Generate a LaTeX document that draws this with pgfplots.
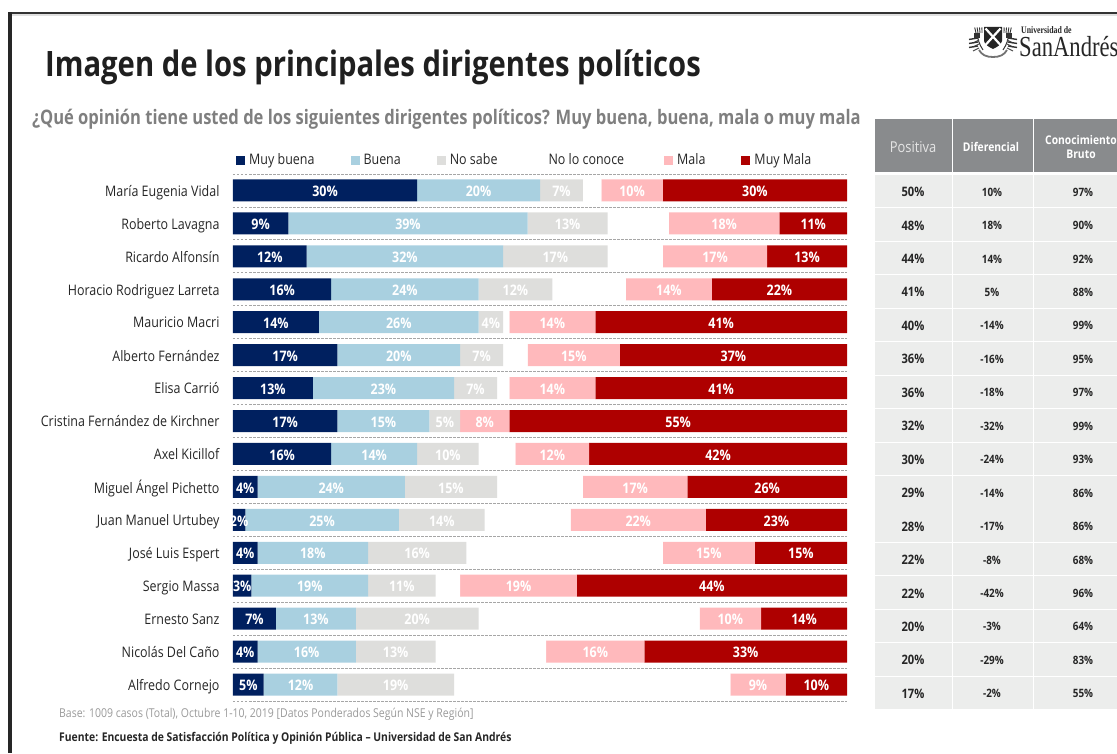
\documentclass[border=0pt]{standalone}
\usepackage{pgfplots}
\pgfplotsset{compat=1.18}
\usepackage{pgfplotstable}
\usepackage{fontspec}
\setmainfont[FakeStretch=0.86]{Open Sans}
\newfontfamily\titlefont[FakeStretch=0.835]{Open Sans}
\newfontfamily\subfont[FakeStretch=0.828]{Open Sans}
\newfontfamily\logofont[FakeStretch=0.78]{Liberation Serif}

\definecolor{muybuena}{HTML}{00205F}
\definecolor{buena}{HTML}{A9D0E0}
\definecolor{nosabe}{HTML}{DEDEDC}
\definecolor{mala}{HTML}{FFB9BC}
\definecolor{muymala}{HTML}{AE0000}
\definecolor{cabecera}{HTML}{898B8D}
\definecolor{celda}{HTML}{ECEDEC}
\definecolor{subtitulo}{HTML}{7F7F7F}
\definecolor{base}{HTML}{9A9A9A}

% Percentages per politician; nc (no lo conoce) completes each row to 100
\pgfplotstableread{
row mb b  ns nc m  mm
1   30 20 7  3  10 30
2   9  39 13 10 18 11
3   12 32 17 9  17 13
4   16 24 12 12 14 22
5   14 26 4  1  14 41
6   17 20 7  4  15 37
7   13 23 7  2  14 41
8   17 15 5  0  8  55
9   16 14 10 6  12 42
10  4  24 15 14 17 26
11  2  25 14 14 22 23
12  4  18 16 32 15 15
13  3  19 11 4  19 44
14  7  13 20 36 10 14
15  4  16 13 18 16 33
16  5  12 19 45 9  10
}\imagen

\pgfplotsset{
  segment/.style={
    fill=#1, draw=none,
    nodes near coords={\pgfmathprintnumber[assume math mode=true]{\pgfplotspointmeta}\%},
  },
}

\begin{document}
\begin{tikzpicture}
\useasboundingbox (0,0) rectangle (1117pt,753pt);

\begin{scope}[x=1pt,y=-1pt,yshift=753pt]
  % slide frame
  \fill[black!12] (11,13.5) rectangle (1117,16);
  \fill[black!80] (8,12) rectangle (1117,14);
  \fill[black!85] (8,12) rectangle (11.5,753);

  % headings
  \node[anchor=base west,inner sep=0,font=\titlefont\fontsize{35}{35}\selectfont\bfseries,text=black!88] at (45,77) {Imagen de los principales dirigentes políticos};
  \node[anchor=base west,inner sep=0,font=\subfont\fontsize{20}{20}\selectfont\bfseries,text=subtitulo] at (32,125) {¿Qué opinión tiene usted de los siguientes dirigentes políticos? Muy buena, buena, mala o muy mala};

  % footer
  \node[anchor=base west,inner sep=0,font=\fontsize{12.2}{12}\selectfont,text=base] at (59,717) {Base: 1009 casos (Total), Octubre 1-10, 2019 [Datos Ponderados Según NSE y Región]};
  \node[anchor=base west,inner sep=0,font=\fontsize{12.05}{12}\selectfont\bfseries,text=black!85] at (59,741) {Fuente: Encuesta de Satisfacción Política y Opinión Pública – Universidad de San Andrés};

  % summary table header
  \fill[cabecera] (875,119) rectangle (952,172);
  \fill[cabecera] (953,119) rectangle (1032.5,172);
  \fill[cabecera] (1034,119) rectangle (1117,172);
  \node[text=white!90!black,font=\fontsize{15}{15}\selectfont] at (913,147) {Positiva};
  \node[text=white,font=\fontsize{12}{12}\selectfont\bfseries] at (991,147) {Diferencial};
  \node[text=white,font=\fontsize{12}{14}\selectfont\bfseries,align=center] at (1081,147) {Conocimiento\\Bruto};

  % summary table body
  \foreach \pos/\dif/\con [count=\i from 0] in {
    50/10/97, 48/18/90, 44/14/92, 41/5/88, 40/-14/99, 36/-16/95, 36/-18/97, 32/-32/99,
    30/-24/93, 29/-14/86, 28/-17/86, 22/-8/68, 22/-42/96, 20/-3/64, 20/-29/83, 17/-2/55} {
    \pgfmathsetmacro{\ytop}{175+33.45*\i}
    \pgfmathsetmacro{\ybot}{\ytop+32.5}
    \pgfmathsetmacro{\ymid}{\ytop+17}
    \fill[celda] (875,\ytop) rectangle (952,\ybot);
    \fill[celda] (953,\ytop) rectangle (1032.5,\ybot);
    \fill[celda] (1034,\ytop) rectangle (1117,\ybot);
    \node[font=\fontsize{13}{13}\selectfont\bfseries,text=black!85] at (913,\ymid) {\pos\%};
    \node[font=\fontsize{11.5}{12}\selectfont\bfseries,text=black!85] at (992,\ymid) {\dif\%};
    \node[font=\fontsize{11.5}{12}\selectfont\bfseries,text=black!85] at (1083,\ymid) {\con\%};
  }

  % university mark: wordmark
  \node[anchor=base west,inner sep=0,font=\logofont\fontsize{10}{10}\selectfont\bfseries,text=black!85] at (1021,34) {Universidad de};
  \begin{scope}
    \clip (1000,20) rectangle (1117,70);
    \node[anchor=base west,inner sep=0,font=\logofont\fontsize{29}{29}\selectfont,text=black!85] at (1019,57) {SanAndrés};
  \end{scope}
  % university mark: shield, thistles and ribbon
  \fill[black!85] (984,27) -- (1002,27) -- (1002,41) .. controls (1001,45) and (997,47) .. (993,49) .. controls (989,47) and (985,45) .. (984,41) -- cycle;
  \draw[white,line width=2.2pt] (985.5,28.5) -- (1000.5,45) (1000.5,28.5) -- (985.5,45);
  \foreach \s in {1,-1} {
    \begin{scope}[xshift=993pt,xscale=\s]
      \draw[black!80,line width=1pt] (10,50) .. controls (14,44) and (15,40) .. (16,33);
      \fill[black!80] (13,33) rectangle (19,38);
      \foreach \a in {-2,0,...,4} \draw[black!80,line width=0.9pt] (13+\a*1.0,33) -- (13.5+\a*1.2,27.5);
      \foreach \ly in {38,42,46} {
        \draw[black!80,line width=1.4pt] (15,\ly) -- (24,\ly+1.5);
        \draw[black!70,line width=1pt] (14,\ly+2) -- (20,\ly+5);
      }
      \draw[black!55,line width=1.8pt] (0,57) .. controls (7,57) and (11,55) .. (14,50);
    \end{scope}
  }
\end{scope}

\begin{axis}[
  at={(233pt,52pt)}, anchor=south west,
  scale only axis,
  width=614pt, height=527pt,
  xbar stacked,
  bar width=22pt,
  xmin=0, xmax=100,
  ymin=0.5, ymax=16.5,
  y dir=reverse,
  axis line style={draw=none},
  xtick=\empty,
  ytick={1,...,16},
  yticklabels={María Eugenia Vidal,Roberto Lavagna,Ricardo Alfonsín,Horacio Rodriguez Larreta,Mauricio Macri,Alberto Fernández,Elisa Carrió,Cristina Fernández de Kirchner,Axel Kicillof,Miguel Ángel Pichetto,Juan Manuel Urtubey,José Luis Espert,Sergio Massa,Ernesto Sanz,Nicolás Del Caño,Alfredo Cornejo},
  typeset ticklabels with strut,
  major tick length=0pt,
  minor tick length=0pt,
  minor ytick={0.5,1.5,...,16.5},
  yminorgrids=true,
  minor grid style={black!35, dash pattern=on 2.5pt off 1.5pt, line width=0.8pt},
  yticklabel style={font=\fontsize{14.5}{14.5}\selectfont, text=black!85, xshift=-10pt, yshift=-2.5pt},
  clip=false,
  every node near coord/.append style={font=\fontsize{14.5}{14.5}\selectfont\bfseries, text=white, yshift=-1pt},
  legend columns=6,
  legend style={
    at={(0,1)}, anchor=south west, draw=none, fill=none,
    font=\fontsize{14.5}{14.5}\selectfont, text=black!85,
    inner sep=0pt, yshift=4pt, xshift=3pt,
    nodes={text height=10.5pt, text depth=3.5pt},
    /tikz/column 2/.style={column sep=34pt},
    /tikz/column 4/.style={column sep=34pt},
    /tikz/column 6/.style={column sep=36pt},
    /tikz/column 8/.style={column sep=38pt},
    /tikz/column 10/.style={column sep=34pt},
  },
  legend image code/.code={\fill[#1] (0pt,-4.5pt) rectangle (9pt,4.5pt); \path (11pt,0pt);},
]
\addplot[segment=muybuena] table[x=mb,y=row] {\imagen};
\addplot[segment=buena] table[x=b,y=row] {\imagen};
\addplot[segment=nosabe] table[x=ns,y=row] {\imagen};
\addplot[fill=white,draw=none] table[x=nc,y=row] {\imagen};
\addplot[segment=mala] table[x=m,y=row] {\imagen};
\addplot[segment=muymala] table[x=mm,y=row] {\imagen};
\legend{Muy buena,Buena,No sabe,No lo conoce,Mala,Muy Mala}
\end{axis}
\end{tikzpicture}
\end{document}
